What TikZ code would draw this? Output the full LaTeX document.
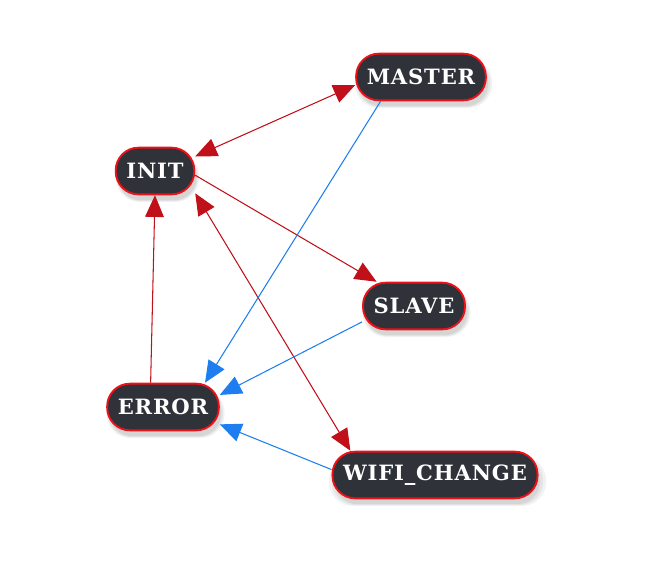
\documentclass[tikz,border=0pt]{standalone}
\usepackage{fontspec}
\usepackage{tikz}
\usetikzlibrary{shadows,arrows.meta}
\newfontfamily\statefont[LetterSpace=4]{DejaVu Serif}
\definecolor{statefill}{HTML}{2F3239}
\definecolor{stateborder}{HTML}{F01018}
\definecolor{linkred}{HTML}{C0101A}
\definecolor{linkblue}{HTML}{1E7EF0}

\begin{document}
\begin{tikzpicture}[x=0.03cm, y=-0.03cm,
	state/.style={draw=stateborder, line width=1.6pt, fill=statefill, text=white, rounded corners=0.68cm, minimum height=1.4cm, inner xsep=0.32cm, font=\statefont\bfseries\fontsize{18}{18}\selectfont,
		drop shadow={shadow xshift=2pt, shadow yshift=-5pt, opacity=0.10, shadow scale=1.06},
		drop shadow={shadow xshift=2pt, shadow yshift=-5pt, opacity=0.12, shadow scale=1.03},
		drop shadow={shadow xshift=2pt, shadow yshift=-5pt, opacity=0.15}},
	redlink/.style={linkred, line width=0.9pt, -{Triangle[length=6.5mm,width=5.6mm]}},
	bluelink/.style={linkblue, line width=0.9pt, -{Triangle[length=6.5mm,width=5.6mm]}},
	both/.style={{Triangle[length=6.5mm,width=5.6mm]}-{Triangle[length=6.5mm,width=5.6mm]}}]

	\useasboundingbox (0,0) rectangle (660,585);

	\node[state] (master) at (421,77) {MASTER};
	\node[state] (init) at (155,171) {INIT};
	\node[state] (slave) at (414,306) {SLAVE};
	\node[state] (error) at (163,407) {ERROR};
	\node[state] (wifi) at (435,475) {WIFI\_CHANGE};

	\draw[redlink, both] (init.20) -- (master.187);
	\draw[redlink] (init.354) -- (slave.147);
	\draw[redlink, both] (init.331) -- (wifi.164);
	\draw[redlink] (error.117) -- (init.south);
	\draw[bluelink] (master.211) -- (error.30);
	\draw[bluelink] (slave.197) -- (error.12);
	\draw[bluelink] (wifi.177) -- (error.343);

\end{tikzpicture}
\end{document}
